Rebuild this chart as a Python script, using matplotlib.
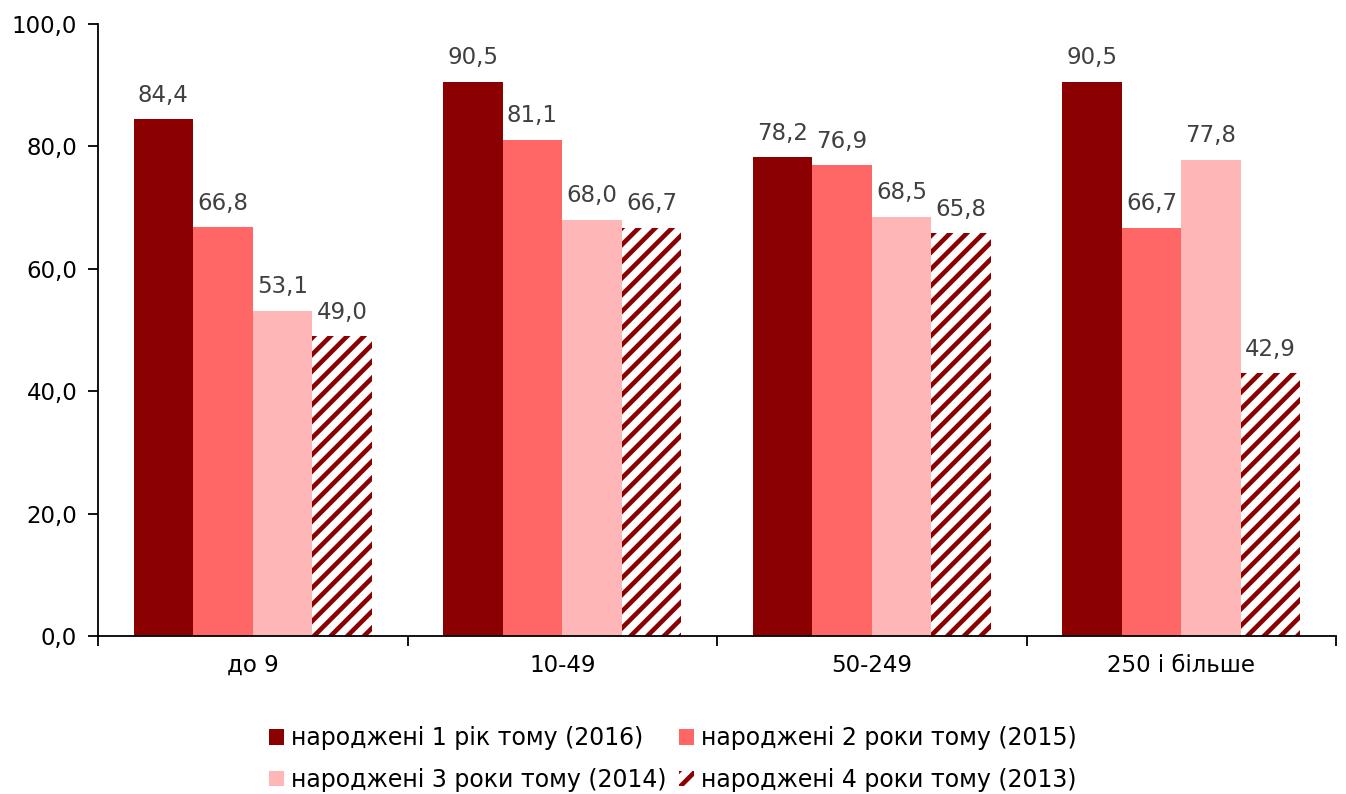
import matplotlib
matplotlib.use("Agg")
import matplotlib.pyplot as plt
import numpy as np
from matplotlib.ticker import FixedLocator, NullFormatter

categories = ["до 9", "10-49", "50-249", "250 і більше"]
series_names = ["народжені 1 рік тому (2016)", "народжені 2 роки тому (2015)",
                "народжені 3 роки тому (2014)", "народжені 4 роки тому (2013)"]
s2016 = [84.4, 90.5, 78.2, 90.5]
s2015 = [66.8, 81.1, 76.9, 66.7]
s2014 = [53.1, 68.0, 68.5, 77.8]
s2013 = [49.0, 66.7, 65.8, 42.9]
yticks = [0, 20, 40, 60, 80, 100]

plt.rcParams['font.family'] = ['DejaVu Sans']
plt.rcParams['hatch.linewidth'] = 3.3
plt.rcParams['hatch.color'] = '#8B0000'

fig = plt.figure(figsize=(13.46, 7.94), dpi=100)
ax = fig.add_axes([0.0728, 0.199, 0.9198, 0.771])

x = np.arange(len(categories))
w = 0.77 / 4
colors = ['#8B0000', '#FF6666', '#FFB6B6', 'white']
data = [s2016, s2015, s2014, s2013]
handles = []
for i, (vals, c, name) in enumerate(zip(data, colors, series_names)):
    pos = x + (i - 1.5) * w
    if i == 3:
        b = ax.bar(pos, vals, w, color='white', edgecolor='#8B0000', linewidth=0, hatch='//', label=name)
    else:
        b = ax.bar(pos, vals, w, color=c, linewidth=0, label=name)
    handles.append(b)
    for p, v in zip(pos, vals):
        ax.annotate(f"{v:.1f}".replace('.', ','), (p, v), xytext=(0, 9), textcoords='offset points',
                    ha='center', va='bottom', fontsize=16.5, color='#404040')

ax.set_xlim(-0.5, 3.5)
ax.set_ylim(0, 100)
ax.set_yticks(yticks)
ax.set_yticklabels([f"{t:.1f}".replace('.', ',') for t in yticks], fontsize=16.5)
ax.xaxis.set_major_locator(FixedLocator(np.arange(-0.5, 4.0, 1.0)))
ax.xaxis.set_major_formatter(NullFormatter())
ax.xaxis.set_minor_locator(FixedLocator(x))
ax.set_xticklabels(categories, minor=True, fontsize=16.5)
ax.tick_params(axis='x', which='minor', length=0, pad=13)
ax.tick_params(axis='x', which='major', length=7, width=1.3, direction='out')
ax.tick_params(axis='y', length=7, width=1.3, direction='out', pad=8)
for s in ['top', 'right']:
    ax.spines[s].set_visible(False)
for s in ['left', 'bottom']:
    ax.spines[s].set_linewidth(1.3)

order = [0, 2, 1, 3]
leg = fig.legend(handles=[handles[k] for k in order], labels=[series_names[k] for k in order],
                 loc='lower center', bbox_to_anchor=(0.5, -0.024), ncol=2,
                 frameon=False, fontsize=17, handlelength=0.65, handleheight=0.65,
                 handletextpad=0.3, columnspacing=0.5, labelspacing=0.75)

fig.savefig("out.png", dpi=100)
